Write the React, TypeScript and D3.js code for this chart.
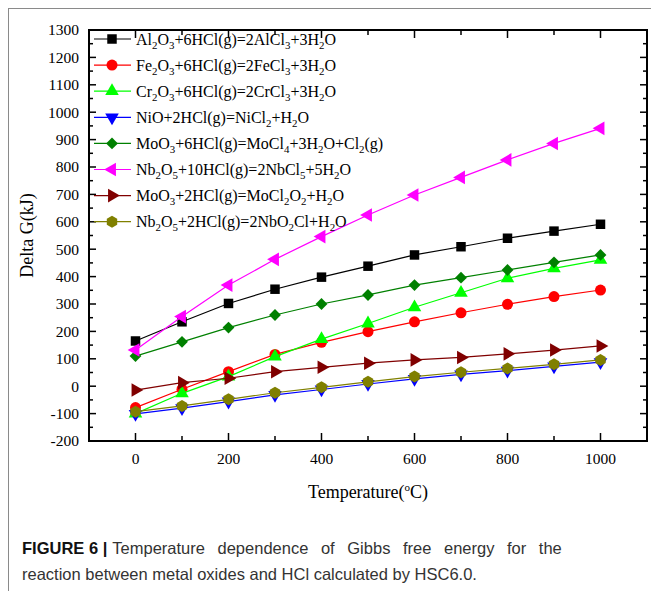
import React from "react";
import * as d3 from "d3";

const temps = [0, 100, 200, 300, 400, 500, 600, 700, 800, 900, 1000];
const al2o3 = [165, 235, 302, 354, 398, 438, 479, 509, 540, 566, 591];
const fe2o3 = [-78, -11, 53, 116, 160, 199, 235, 268, 299, 327, 351];
const cr2o3 = [-100, -26, 35, 108, 172, 229, 288, 341, 394, 430, 461];
const nio = [-101, -80, -56, -32, -12, 8, 27, 43, 57, 72, 88];
const moo3a = [110, 162, 214, 260, 300, 333, 369, 396, 424, 452, 479];
const nb2o5a = [132, 254, 369, 463, 546, 625, 698, 762, 826, 886, 941];
const moo3b = [-14, 13, 29, 53, 69, 84, 96, 105, 118, 132, 147];
const nb2o5b = [-93, -72, -48, -24, -4, 16, 35, 51, 65, 80, 96];

const labels = [
  "Al_2O_3+6HCl(g)=2AlCl_3+3H_2O",
  "Fe_2O_3+6HCl(g)=2FeCl_3+3H_2O",
  "Cr_2O_3+6HCl(g)=2CrCl_3+3H_2O",
  "NiO+2HCl(g)=NiCl_2+H_2O",
  "MoO_3+6HCl(g)=MoCl_4+3H_2O+Cl_2(g)",
  "Nb_2O_5+10HCl(g)=2NbCl_5+5H_2O",
  "MoO_3+2HCl(g)=MoCl_2O_2+H_2O",
  "Nb_2O_5+2HCl(g)=2NbO_2Cl+H_2O",
];
const colors = ["#000000", "#ff0000", "#00ff00", "#0000ff", "#008000", "#ff00ff", "#800000", "#808000"];
const markers = ["square", "circle", "triUp", "triDown", "diamond", "triLeft", "triRight", "hexagon"];
const seriesValues = [al2o3, fe2o3, cr2o3, nio, moo3a, nb2o5a, moo3b, nb2o5b];

const yTicks = d3.range(-200, 1301, 100);
const xTicks = [0, 200, 400, 600, 800, 1000];

const W = 651, H = 591;
const L = 89, R = 647, T = 30, B = 441;

const serif = "'Liberation Serif', 'Times New Roman', serif";
const sans = "'Liberation Sans', Arial, sans-serif";

function markerPath(kind: string): { d: string; rot: number } {
  switch (kind) {
    case "square": return { d: d3.symbol(d3.symbolSquare, 90)()!, rot: 0 };
    case "circle": return { d: d3.symbol(d3.symbolCircle, 95)()!, rot: 0 };
    case "triUp": return { d: d3.symbol(d3.symbolTriangle, 80)()!, rot: 0 };
    case "triDown": return { d: d3.symbol(d3.symbolTriangle, 80)()!, rot: 180 };
    case "triLeft": return { d: d3.symbol(d3.symbolTriangle, 80)()!, rot: -90 };
    case "triRight": return { d: d3.symbol(d3.symbolTriangle, 80)()!, rot: 90 };
    case "diamond": return { d: d3.symbol(d3.symbolSquare, 70)()!, rot: 45 };
    default: {
      const r = 6;
      const pts: [number, number][] = d3.range(6).map((i) => {
        const a = (Math.PI / 3) * i - Math.PI / 2;
        return [r * Math.cos(a), r * Math.sin(a)];
      });
      return { d: (d3.line()(pts) || "") + "Z", rot: 0 };
    }
  }
}

function Rich({ text, x, y, size }: { text: string; x: number; y: number; size: number }) {
  const parts = text.split(/_(\d)/);
  const out: React.ReactNode[] = [];
  let lowered = false;
  parts.forEach((p, i) => {
    if (p === "") return;
    if (i % 2 === 1) {
      out.push(<tspan key={i} fontSize={size * 0.68} dy={lowered ? 0 : 4}>{p}</tspan>);
      lowered = true;
    } else {
      out.push(<tspan key={i} dy={lowered ? -4 : 0}>{p}</tspan>);
      lowered = false;
    }
  });
  return (
    <text x={x} y={y} fontFamily={serif} fontSize={size} fill="#000">
      {out}
    </text>
  );
}

export default function App() {
  const x = d3.scaleLinear().domain([-100, 1100]).range([L, R]);
  const y = d3.scaleLinear().domain([-200, 1300]).range([B, T]);
  const line = d3.line<[number, number]>().x((d) => x(d[0])).y((d) => y(d[1]));

  const yMinor = d3.range(-200, 1301, 50);
  const xMinor = d3.range(-100, 1101, 100);

  return (
    <svg width={W} height={H} style={{ position: "absolute", left: 0, top: 0, background: "#fff" }}>
      <rect x={0} y={0} width={W} height={H} fill="#fff" />
      <line x1={8.5} y1={8} x2={8.5} y2={H} stroke="#8a8a8a" strokeWidth={1} />
      <line x1={8} y1={8.5} x2={W} y2={8.5} stroke="#8a8a8a" strokeWidth={1} />

      {seriesValues.map((vals, si) => {
        const pts = temps.map((t, i) => [t, vals[i]] as [number, number]);
        const m = markerPath(markers[si]);
        return (
          <g key={si}>
            <path d={line(pts) || ""} fill="none" stroke={colors[si]} strokeWidth={1.2} />
            {pts.map((p, i) => (
              <path key={i} d={m.d} transform={`translate(${x(p[0])},${y(p[1])}) rotate(${m.rot})`} fill={colors[si]} />
            ))}
          </g>
        );
      })}

      <rect x={L} y={T} width={R - L} height={B - T} fill="none" stroke="#000" strokeWidth={2} />

      {yMinor.map((v) => {
        const major = v % 100 === 0;
        const len = major ? 7 : 4;
        return (
          <g key={"y" + v}>
            <line x1={L} x2={L + len} y1={y(v)} y2={y(v)} stroke="#000" strokeWidth={1.5} />
            <line x1={R} x2={R - len} y1={y(v)} y2={y(v)} stroke="#000" strokeWidth={1.5} />
          </g>
        );
      })}
      {yTicks.map((v) => (
        <text key={"yl" + v} x={79} y={y(v)} dy="0.35em" textAnchor="end" fontFamily={serif} fontSize={15.5} fill="#000">
          {v}
        </text>
      ))}

      {xMinor.map((v) => {
        const major = v % 200 === 0;
        const len = major ? 8 : 5;
        return (
          <g key={"x" + v}>
            <line x1={x(v)} x2={x(v)} y1={B} y2={B - len} stroke="#000" strokeWidth={1.5} />
            <line x1={x(v)} x2={x(v)} y1={T} y2={T + len} stroke="#000" strokeWidth={1.5} />
          </g>
        );
      })}
      {xTicks.map((v) => (
        <text key={"xl" + v} x={x(v)} y={464} textAnchor="middle" fontFamily={serif} fontSize={15.5} fill="#000">
          {v}
        </text>
      ))}

      <text transform={`translate(33,${(T + B) / 2}) rotate(-90)`} textAnchor="middle" fontFamily={serif} fontSize={18} fill="#000">
        Delta G(kJ)
      </text>
      <text x={(L + R) / 2} y={498} textAnchor="middle" fontFamily={serif} fontSize={18} fill="#000">
        Temperature(<tspan fontSize={11} dy={-7}>o</tspan><tspan dy={7}>C)</tspan>
      </text>

      {labels.map((lab, i) => {
        const ly = 39 + i * 26.1;
        const m = markerPath(markers[i]);
        return (
          <g key={"lg" + i}>
            <line x1={94} x2={131} y1={ly} y2={ly} stroke={colors[i]} strokeWidth={1.2} />
            <path d={m.d} transform={`translate(112,${ly}) rotate(${m.rot})`} fill={colors[i]} />
            <Rich text={lab} x={136} y={ly + 5.5} size={16} />
          </g>
        );
      })}

      <text x={22} y={554} fontFamily={sans} fontSize={16.5} fill="#333">
        <tspan fontWeight="bold" fill="#111">FIGURE 6 |</tspan>
        <tspan dx={5} wordSpacing={8}>Temperature dependence of Gibbs free energy for the</tspan>
      </text>
      <text x={22} y={580} fontFamily={sans} fontSize={16.5} fill="#333">
        reaction between metal oxides and HCl calculated by HSC6.0.
      </text>
    </svg>
  );
}
